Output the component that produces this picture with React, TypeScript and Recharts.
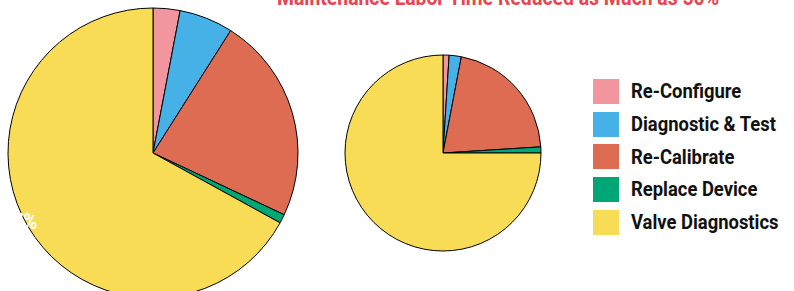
import { Cell, Legend, Pie, PieChart } from "recharts";

const categories = ["Re-Configure", "Diagnostic & Test", "Re-Calibrate", "Replace Device", "Valve Diagnostics"];
const colors = ["#f2959f", "#46b1e6", "#dd6c53", "#00a776", "#f9dc55"];
const beforeValues = [3, 6, 23, 1, 67];
const afterValues = [1, 2, 21, 1, 75];
const title = "Maintenance Labor Time Reduced as Much as 50%";
const bigLabel = "67%";

const font = "Roboto, 'Liberation Sans', Arial, sans-serif";
const RAD = Math.PI / 180;

const before = categories.map((name, i) => ({ name, value: beforeValues[i] }));
const after = categories.map((name, i) => ({ name, value: afterValues[i] }));

const renderLegend = () => (
  <div style={{ fontFamily: font, fontWeight: 700, fontSize: 20, color: "#111" }}>
    {categories.map((c, i) => (
      <div key={c} style={{ display: "flex", alignItems: "center", height: 32.7, whiteSpace: "nowrap" }}>
        <span style={{ width: 26, height: 25, background: colors[i], marginRight: 12, flex: "none" }} />
        <span style={{ display: "inline-block", transform: "scaleX(0.92)", transformOrigin: "left center" }}>{c}</span>
      </div>
    ))}
  </div>
);

// only the big yellow slice carries a label, sitting on its rim
const renderBigLabel = (props: any) => {
  if (props.index !== categories.length - 1) return null;
  const { cx, cy, midAngle, outerRadius } = props;
  const x = cx + outerRadius * Math.cos(-midAngle * RAD) + 9;
  const y = cy + outerRadius * Math.sin(-midAngle * RAD) + 2;
  return (
    <text
      x={x}
      y={y}
      textAnchor="end"
      fill="#fff"
      fontFamily={font}
      fontWeight={700}
      fontSize={22}
      transform={`translate(${x} 0) scale(0.85 1) translate(${-x} 0)`}
    >
      {bigLabel}
    </text>
  );
};

export default function App() {
  return (
    <div style={{ position: "fixed", left: 0, top: 0, width: 794, height: 291, background: "#fff" }}>
      <PieChart width={794} height={291} margin={{ top: 0, right: 0, bottom: 0, left: 0 }}>
        <text
          x={277}
          y={5}
          textLength={442}
          lengthAdjust="spacingAndGlyphs"
          fill="#e8464f"
          fontFamily={font}
          fontWeight={700}
          fontSize={22}
        >
          {title}
        </text>
        <Pie
          data={before}
          dataKey="value"
          nameKey="name"
          cx={153}
          cy={153}
          outerRadius={145}
          startAngle={90}
          endAngle={-270}
          stroke="#000"
          strokeWidth={1}
          label={renderBigLabel}
          labelLine={false}
          isAnimationActive={false}
        >
          {before.map((d, i) => (
            <Cell key={d.name} fill={colors[i]} />
          ))}
        </Pie>
        <Pie
          data={after}
          dataKey="value"
          nameKey="name"
          cx={443}
          cy={153}
          outerRadius={98}
          startAngle={90}
          endAngle={-270}
          stroke="#000"
          strokeWidth={1}
          isAnimationActive={false}
        >
          {after.map((d, i) => (
            <Cell key={d.name} fill={colors[i]} />
          ))}
        </Pie>
        <Legend content={renderLegend} wrapperStyle={{ left: 593, top: 75, width: 200 }} />
      </PieChart>
    </div>
  );
}
